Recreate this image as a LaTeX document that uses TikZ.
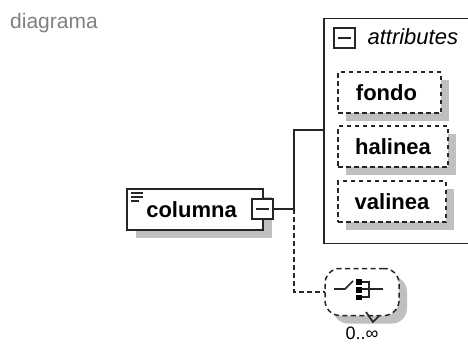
\documentclass[tikz,border=0pt]{standalone}
\usepackage{fontspec}
\setmainfont{Liberation Sans}
\tikzset{
  px/.style={x=1pt,y=-1pt},
  boxbase/.style={rectangle,inner sep=0pt,outer sep=0pt,minimum height=41pt},
  shadowbox/.style={boxbase,fill=black!25},
  solidbox/.style={boxbase,draw=black!85,line width=1.7pt,fill=white},
  dashbox/.style={boxbase,draw=black!85,line width=1.6pt,fill=white,dash pattern=on 4.5pt off 3.5pt},
  toggle/.style={rectangle,draw=black!85,line width=1.7pt,fill=white,inner sep=0pt,outer sep=0pt,minimum size=20.5pt},
  link/.style={draw=black!85,line width=1.7pt},
  dlink/.style={link,dash pattern=on 4.5pt off 3.5pt},
  name text/.style={font=\fontsize{22}{24}\selectfont\bfseries,text=black},
  icon/.style={draw=black!85,line width=1.7pt},
}
\begin{document}
\begin{tikzpicture}[px]
\useasboundingbox (0,0) rectangle (468,343);
\clip (0,0) rectangle (468,343);
\node[font=\fontsize{21}{24}\selectfont,text=black!50] (title) at (54,23) {diagrama};

% outer container first, so the shadows inside it stay visible
\node[solidbox,minimum width=170pt,minimum height=225pt,anchor=north west] (attrs) at (324,18.5) {};

% shadows
\node[shadowbox,minimum width=136pt] (colshadow) at (203.5,217.5) {};
\node[shadowbox,minimum width=103pt] (fondoshadow) at (397.5,100.5) {};
\node[shadowbox,minimum width=110pt] (halineashadow) at (401,154.5) {};
\node[shadowbox,minimum width=108pt] (valineashadow) at (400,209.5) {};
\node[shadowbox,minimum width=74pt,minimum height=47pt,rounded corners=15pt] (groupshadow) at (370,300) {};

% elements
\node[solidbox,minimum width=136pt] (columna) at (195,209.5) {};
\node[name text] (columnatext) at (191.5,210) {columna};
\node[toggle] (coltoggle) at (262.5,209) {};
\node[toggle] (attrtoggle) at (344.5,38) {};
\node[font=\fontsize{22}{24}\selectfont\itshape,anchor=west] (attrtext) at (364,37) {attributes};
\node[dashbox,minimum width=103pt,name text] (fondo) at (389.5,92.5) {\kern-6pt fondo};
\node[dashbox,minimum width=110pt,name text] (halinea) at (393,146.5) {halinea};
\node[dashbox,minimum width=108pt,name text] (valinea) at (392,201.5) {valinea};
\node[rectangle,rounded corners=15pt,draw=black!85,line width=1.5pt,fill=white,dash pattern=on 5pt off 3.5pt,inner sep=0pt,outer sep=0pt,minimum width=74pt,minimum height=47pt] (group) at (362,292) {};
\node[font=\fontsize{18}{20}\selectfont,anchor=base] (card) at (362,339.5) {0..∞};

% connectors
\coordinate (junction) at (294,209);
\draw[link] (coltoggle.east) -- (junction);
\draw[link] (junction) |- (attrs.west |- 0,130);
\draw[dlink] (junction) |- (group.west);

% toggle marks
\draw[icon] (256,209) -- (269,209);
\draw[icon] (338,38) -- (351,38);

% annotation lines of columna
\draw[icon] (131,193) -- (143,193);
\draw[icon] (131,197) -- (143,197);
\draw[icon] (131,201) -- (139,201);

% sequence icon
\draw[icon] (334,289) -- (345,289) -- (353,281);
\fill[black] (356,279) rectangle (362,285);
\fill[black] (356,287) rectangle (362,292.5);
\fill[black] (356,295) rectangle (362,300);
\draw[icon] (362,282) -- (369,282) -- (369,297) -- (362,297);
\draw[icon] (362,289) -- (383,289);
\draw[icon] (366,312) -- (373,322) -- (379,316);
\end{tikzpicture}
\end{document}
